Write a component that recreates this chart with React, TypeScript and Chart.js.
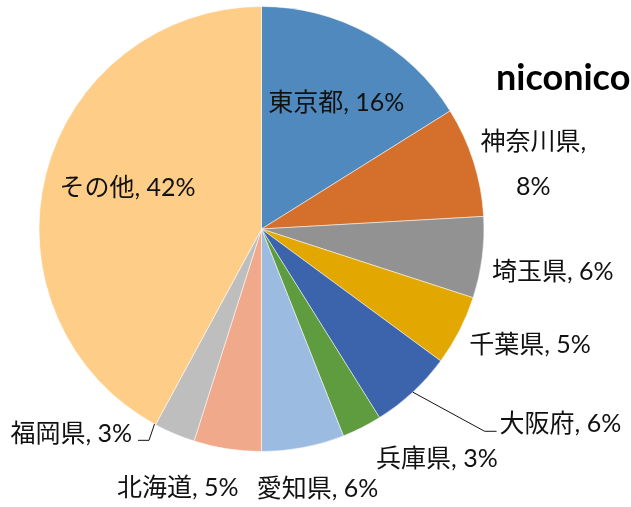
import React, { useEffect, useRef } from "react";
import { Chart, registerables } from "chart.js";

Chart.register(...registerables);

const categories = ["東京都", "神奈川県", "埼玉県", "千葉県", "大阪府", "兵庫県", "愛知県", "北海道", "福岡県", "その他"];
const values = [16.1, 8.0, 5.9, 5.1, 6.0, 2.9, 6.0, 4.9, 3.0, 42.1];
const percentLabels = ["16%", "8%", "6%", "5%", "6%", "3%", "6%", "5%", "3%", "42%"];
const colors = ["#4F89BE", "#D4702B", "#929292", "#E2A700", "#3B64AD", "#5F9B3F", "#9BBBE1", "#F0A98A", "#BEBEBE", "#FECE89"];
const titleText = "niconico";

// label placement: radius factor, angle offset (deg), alignment, leader
const placements = [
  { r: 0.66, a: 1.6, align: "center" },
  { r: 1.256, a: 4.2, align: "center", twoLine: true },
  { r: 1.323, a: 1, align: "center" },
  { r: 1.314, a: -3.9, align: "center" },
  { r: 1.384, a: -7.8, align: "left", leader: "left" },
  { r: 1.3, a: -10.5, align: "center" },
  { r: 1.193, a: -1.4, align: "center" },
  { r: 1.224, a: 9.1, align: "center" },
  { r: 1.091, a: 9.2, align: "right", leader: "right" },
  { r: 0.63, a: 2.8, align: "center" },
];

const FONT = "25px Lato, 'Noto Sans CJK JP', sans-serif";

const labelPlugin = {
  id: "pieLabels",
  afterDatasetsDraw(chart: any) {
    const ctx = chart.ctx;
    const meta = chart.getDatasetMeta(0);
    ctx.save();
    ctx.font = FONT;
    ctx.fillStyle = "#111";
    ctx.strokeStyle = "#111";
    ctx.lineWidth = 1;
    ctx.textBaseline = "middle";
    meta.data.forEach((arc: any, i: number) => {
      const p: any = placements[i];
      const mid = (arc.startAngle + arc.endAngle) / 2;
      const ang = mid + (p.a * Math.PI) / 180;
      const R = arc.outerRadius;
      const lx = arc.x + Math.cos(ang) * R * p.r;
      const ly = arc.y + Math.sin(ang) * R * p.r;
      const text = categories[i] + ", " + percentLabels[i];
      if (p.twoLine) {
        ctx.textAlign = "center";
        ctx.fillText(categories[i] + ",", lx, ly - 22);
        ctx.fillText(percentLabels[i], lx, ly + 23);
      } else {
        ctx.textAlign = p.align;
        ctx.fillText(text, lx, ly);
      }
      if (p.leader === "left") {
        const sx = arc.x + Math.cos(mid) * R;
        const sy = arc.y + Math.sin(mid) * R;
        ctx.beginPath();
        ctx.moveTo(sx, sy);
        ctx.lineTo(lx - 15, ly + 7);
        ctx.lineTo(lx - 3, ly + 7);
        ctx.stroke();
      } else if (p.leader === "right") {
        const sa = mid + (5.7 * Math.PI) / 180;
        const sx = arc.x + Math.cos(sa) * R;
        const sy = arc.y + Math.sin(sa) * R;
        ctx.beginPath();
        ctx.moveTo(sx, sy);
        ctx.lineTo(lx + 17, ly + 6);
        ctx.lineTo(lx + 6, ly + 6);
        ctx.stroke();
      }
    });
    // title
    ctx.font = "bold 36px Lato, 'Noto Sans CJK JP', sans-serif";
    ctx.textAlign = "left";
    ctx.textBaseline = "alphabetic";
    ctx.fillStyle = "#000";
    ctx.fillText(titleText, 496, 90);
    ctx.restore();
  },
};

export default function App() {
  const ref = useRef<HTMLCanvasElement | null>(null);
  useEffect(() => {
    document.body.style.margin = "0";
    const chart = new Chart(ref.current as HTMLCanvasElement, {
      type: "pie",
      data: {
        labels: categories,
        datasets: [
          {
            data: values,
            backgroundColor: colors,
            borderColor: "rgba(255,255,255,0.5)",
            borderWidth: 1,
          },
        ],
      },
      options: {
        animation: false,
        responsive: false,
        layout: { padding: { top: 6, bottom: 55, left: 38, right: 146 } },
        plugins: { legend: { display: false }, tooltip: { enabled: false }, title: { display: false } },
      },
      plugins: [labelPlugin],
    });
    return () => chart.destroy();
  }, []);
  return (
    <div style={{ width: 631, height: 507, background: "#fff" }}>
      <canvas ref={ref} width={631} height={507} />
    </div>
  );
}
